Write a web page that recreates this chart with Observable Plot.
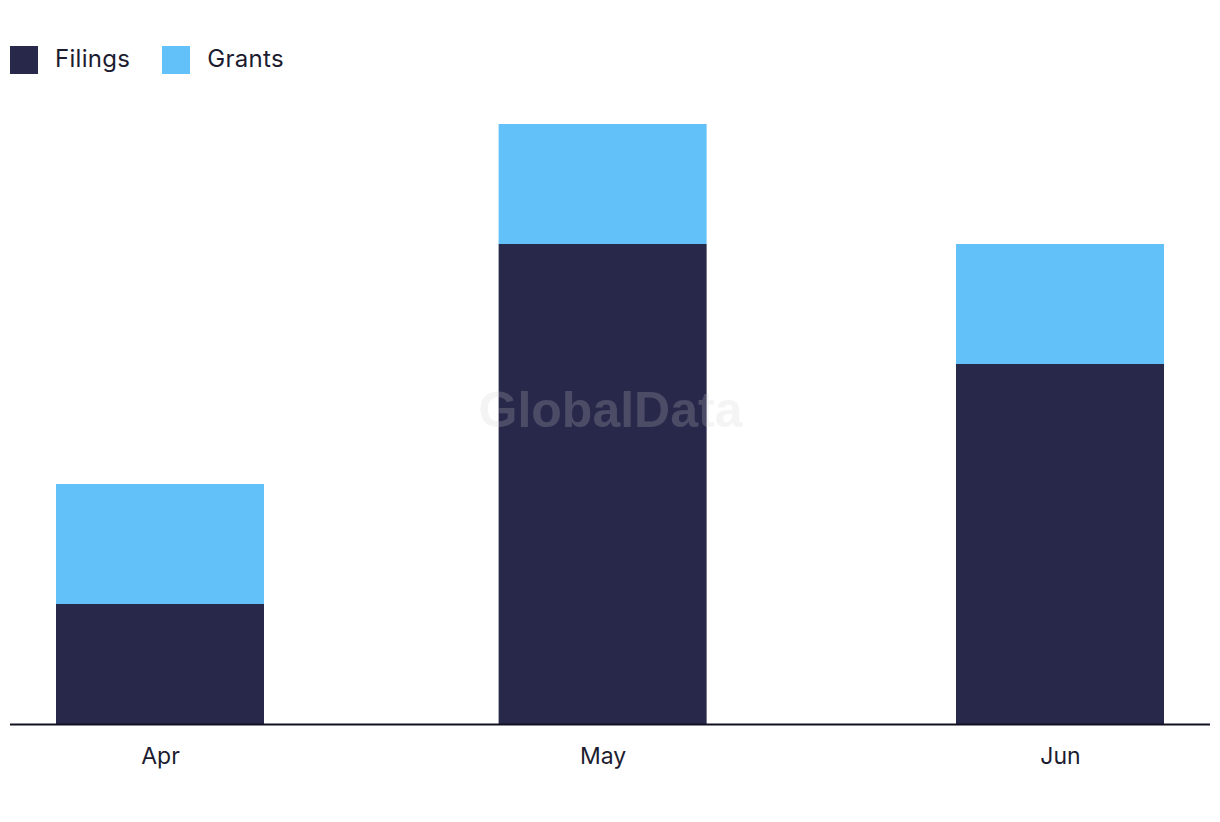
<!DOCTYPE html>
<html>
<head>
<meta charset="utf-8">
<script src="https://cdn.jsdelivr.net/npm/d3@7"></script>
<script src="https://cdn.jsdelivr.net/npm/@observablehq/plot@0.6"></script>
<style>
  html, body { margin: 0; padding: 0; background: #ffffff; }
  body { width: 1220px; height: 822px; position: relative; overflow: hidden; font-family: Inter, "Noto Sans", sans-serif; color: #1c1c30; }
  #legend { position: absolute; left: 10px; top: 46px; display: flex; align-items: center; height: 28px; font-size: 24px; letter-spacing: 0.3px; }
  .item { display: flex; align-items: center; margin-right: 32px; }
  .item span { position: relative; top: -2px; }
  .sw { width: 28px; height: 28px; margin-right: 17px; }
  #chart { position: absolute; left: 0; top: 100px; }
</style>
</head>
<body>
<div id="legend"></div>
<div id="chart"></div>
<script>
const months = ["2024-04-01", "2024-05-01", "2024-06-01"];
const monthLabels = ["Apr", "May", "Jun"];
const seriesNames = ["Filings", "Grants"];
const seriesColors = ["#28284b", "#62c1f8"];
const filings = [1, 4, 3];
const grants = [1, 1, 1];

const dates = months.map(d => new Date(d + "T00:00:00Z"));
const data = [];
dates.forEach((d, i) => {
  data.push({date: d, series: seriesNames[0], value: filings[i]});
  data.push({date: d, series: seriesNames[1], value: grants[i]});
});

// legend
const legend = document.getElementById("legend");
seriesNames.forEach((s, i) => {
  const it = document.createElement("div");
  it.className = "item";
  const sw = document.createElement("div");
  sw.className = "sw";
  sw.style.background = seriesColors[i];
  const lb = document.createElement("span");
  lb.textContent = s;
  it.appendChild(sw); it.appendChild(lb);
  legend.appendChild(it);
});

const labelOf = new Map(dates.map((d, i) => [+d, monthLabels[i]]));

const chart = Plot.plot({
  width: 1220,
  height: 722,
  marginLeft: 10,
  marginRight: 10,
  marginTop: 24,
  marginBottom: 98,
  style: {fontFamily: "Inter, 'Noto Sans', sans-serif", fontSize: "23px", color: "#1c1c30", background: "transparent"},
  x: {type: "utc", domain: [dates[0], dates[dates.length - 1]], inset: 150, ticks: dates, tickFormat: d => labelOf.get(+d), tickSize: 0, tickPadding: 23, label: null},
  y: {domain: [0, 5], axis: null},
  color: {domain: seriesNames, range: seriesColors},
  marks: [
    Plot.rectY(data, Plot.stackY({x1: "date", x2: "date", y: "value", fill: "series", order: seriesNames, insetLeft: -104, insetRight: -104})),
    Plot.text(["GlobalData"], {frameAnchor: "middle", dy: -14, fontSize: 50, fontWeight: "bold", fontFamily: "'Liberation Sans', Arial, sans-serif", fill: "#cccccc", fillOpacity: 0.22}),
    Plot.ruleY([0], {stroke: "#111122", strokeWidth: 2})
  ]
});
document.getElementById("chart").appendChild(chart);
</script>
</body>
</html>
